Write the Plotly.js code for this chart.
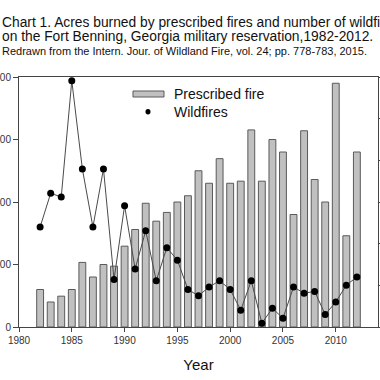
<!DOCTYPE html>
<html>
<head>
<meta charset="utf-8">
<script src="https://cdn.plot.ly/plotly-3.0.1.min.js"></script>
<style>html,body{margin:0;padding:0;background:#fff;overflow:hidden}#chart{width:380px;height:380px}</style>
</head>
<body>
<div id="chart"></div>
<script>
// Data
const years = [1982,1983,1984,1985,1986,1987,1988,1989,1990,1991,1992,1993,1994,1995,1996,1997,
               1998,1999,2000,2001,2002,2003,2004,2005,2006,2007,2008,2009,2010,2011,2012];
// Acres burned by prescribed fire (right axis)
const prescribedAcres = [9000,6000,7400,9000,15500,12000,15000,14600,19400,23400,29700,25400,27500,30000,31500,37500,
                         34500,40400,34500,35000,47300,35000,45000,42000,27000,47100,35400,30000,58500,21900,42000];
// Number of wildfires (left axis)
const wildfires = [160,214,208,394,253,160,253,76,194,93,154,74,127,107,60,50,
                   64,74,60,27,74,6,30,14,64,54,57,20,40,67,80];
const xTicks = [1980,1985,1990,1995,2000,2005,2010];
const leftTicks = [0,100,200,300,400];
const rightTicks = [0,10000,20000,30000,40000,50000,60000];
const titleLines = [
  "Chart 1. Acres burned by prescribed fires and number of wildfires",
  "on the Fort Benning, Georgia military reservation,1982-2012.",
  "Redrawn from the Intern. Jour. of Wildland Fire, vol. 24; pp. 778-783, 2015."
];
const seriesNames = ["Prescribed fire", "Wildfires"];

const FONT = "Liberation Sans, Arial, sans-serif";
const axisColor = "#444";

const traces = [
  {
    type: "bar", x: years, y: prescribedAcres, name: seriesNames[0],
    xaxis: "x", yaxis: "y", width: 0.65,
    marker: {color: "#c0c0c0", line: {color: "#5a5a5a", width: 1}}
  },
  {
    type: "scatter", mode: "lines+markers", x: years, y: wildfires, name: seriesNames[1],
    xaxis: "x", yaxis: "y2", cliponaxis: false,
    line: {color: "#4a4a4a", width: 1},
    marker: {color: "#000", size: 7}
  }
];

const layout = {
  width: 380, height: 380,
  margin: {l: 19, r: 2, t: 77, b: 53},
  paper_bgcolor: "#fff", plot_bgcolor: "#fff",
  showlegend: false,
  font: {family: FONT, color: "#222", size: 10},
  xaxis: {
    range: [1980, 2014], tickvals: xTicks, ticks: "outside", ticklen: 4, tickcolor: axisColor,
    showline: true, linecolor: axisColor, linewidth: 1, mirror: true, showgrid: false, zeroline: false,
    tickfont: {size: 10, color: "#333"},
    title: {text: "Year", font: {size: 15, color: "#111"}, standoff: 14}
  },
  yaxis: {
    side: "right", range: [0, 60000], tickvals: rightTicks, ticks: "outside", ticklen: 4, tickcolor: axisColor,
    showline: true, linecolor: axisColor, linewidth: 1, showgrid: false, zeroline: false,
    showticklabels: false
  },
  yaxis2: {
    overlaying: "y", side: "left", range: [0, 400], tickvals: leftTicks, ticks: "outside", ticklen: 5, tickcolor: axisColor,
    showline: true, linecolor: axisColor, linewidth: 1, showgrid: false, zeroline: false,
    tickfont: {size: 10, color: "#333"}
  },
  shapes: [
    {type: "rect", xref: "paper", yref: "paper", x0: 0.3175, x1: 0.4039, y0: 0.92, y1: 0.944,
     fillcolor: "#c0c0c0", line: {color: "#5a5a5a", width: 1}},
    {type: "circle", xref: "paper", yref: "paper", x0: 0.3523, x1: 0.3663, y0: 0.85, y1: 0.872,
     fillcolor: "#000", line: {color: "#000", width: 0}}
  ],
  annotations: [
    {text: titleLines[0], xref: "paper", yref: "paper", x: -0.053, y: 1.218, xanchor: "left", yanchor: "middle",
     showarrow: false, font: {size: 13.8, color: "#111"}},
    {text: titleLines[1], xref: "paper", yref: "paper", x: -0.053, y: 1.161, xanchor: "left", yanchor: "middle",
     showarrow: false, font: {size: 13.8, color: "#111"}},
    {text: titleLines[2], xref: "paper", yref: "paper", x: -0.053, y: 1.104, xanchor: "left", yanchor: "middle",
     showarrow: false, font: {size: 11, color: "#111"}},
    {text: seriesNames[0], xref: "paper", yref: "paper", x: 0.4262, y: 0.932, xanchor: "left", yanchor: "middle",
     showarrow: false, font: {size: 14, color: "#111"}},
    {text: seriesNames[1], xref: "paper", yref: "paper", x: 0.4262, y: 0.86, xanchor: "left", yanchor: "middle",
     showarrow: false, font: {size: 14, color: "#111"}}
  ]
};

Plotly.newPlot("chart", traces, layout, {displayModeBar: false, staticPlot: true});
</script>
</body>
</html>
